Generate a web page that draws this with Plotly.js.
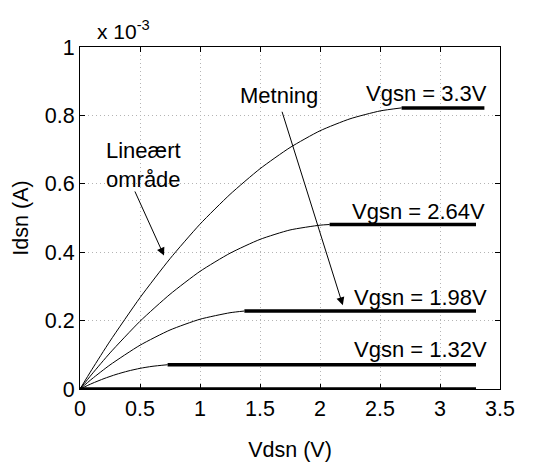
<!DOCTYPE html>
<html>
<head>
<meta charset="utf-8">
<script src="https://cdn.plot.ly/plotly-3.0.1.min.js"></script>
<style>html,body{margin:0;padding:0;background:#fff;}#chart{width:540px;height:465px;}</style>
</head>
<body>
<div id="chart"></div>
<script>
// Values in units of 1e-3 A (mA)
const vds_330 = [0, 0.1, 0.25, 0.5, 0.75, 1.0, 1.25, 1.5, 1.75, 2.0, 2.25, 2.5, 2.68];
const ids_330 = [0, 0.0575, 0.140, 0.267, 0.381, 0.482, 0.569, 0.644, 0.706, 0.755, 0.790, 0.813, 0.822];
const vds_264 = [0, 0.1, 0.25, 0.5, 0.75, 1.0, 1.25, 1.5, 1.75, 2.0, 2.08];
const ids_264 = [0, 0.0437, 0.1055, 0.198, 0.277, 0.344, 0.397, 0.4375, 0.465, 0.479, 0.481];
const vds_198 = [0, 0.1, 0.25, 0.5, 0.75, 1.0, 1.25, 1.37];
const ids_198 = [0, 0.0297, 0.0704, 0.128, 0.1725, 0.204, 0.223, 0.228];
const vds_132 = [0, 0.1, 0.2, 0.3, 0.4, 0.5, 0.6, 0.73];
const ids_132 = [0, 0.0162, 0.0304, 0.0425, 0.0525, 0.0604, 0.0662, 0.071];

// saturation segments [start, end] and level
const sat_vds = [[2.68, 3.37], [2.08, 3.3], [1.37, 3.3], [0.73, 3.3], [0, 3.3]];
const sat_ids = [0.822, 0.481, 0.228, 0.071, 0];

const curve_x = [vds_330, vds_264, vds_198, vds_132];
const curve_y = [ids_330, ids_264, ids_198, ids_132];

const labels = ["Vgsn = 3.3V", "Vgsn = 2.64V", "Vgsn = 1.98V", "Vgsn = 1.32V"];
const label_x = [3.41, 3.39, 3.41, 3.41];
const label_y = [0.863, 0.519, 0.269, 0.115];

const xTicks = [0, 0.5, 1, 1.5, 2, 2.5, 3, 3.5];
const yTicks = [0, 0.2, 0.4, 0.6, 0.8, 1];

const traces = [];
for (let i = 0; i < curve_x.length; i++) {
  traces.push({x: curve_x[i], y: curve_y[i], mode: 'lines', type: 'scatter',
    line: {color: '#000', width: 1, shape: 'spline', smoothing: 0.6}, hoverinfo: 'skip'});
}
for (let i = 0; i < sat_vds.length; i++) {
  traces.push({x: sat_vds[i], y: [sat_ids[i], sat_ids[i]], mode: 'lines', type: 'scatter',
    line: {color: '#000', width: 3.5}, hoverinfo: 'skip'});
}

const F = 'Liberation Sans, Arial, Helvetica, sans-serif';
const annotations = [];
for (let i = 0; i < labels.length; i++) {
  annotations.push({x: label_x[i], y: label_y[i], xref: 'x', yref: 'y', text: labels[i],
    showarrow: false, xanchor: 'right', yanchor: 'middle', font: {family: F, size: 22, color: '#000'}});
}
annotations.push({x: 1.66, y: 0.858, xref: 'x', yref: 'y', text: 'Metning', showarrow: false,
  xanchor: 'center', yanchor: 'middle', font: {family: F, size: 22, color: '#000'}});
annotations.push({x: 0.53, y: 0.655, xref: 'x', yref: 'y', text: 'Lineært<br>område', showarrow: false,
  xanchor: 'center', yanchor: 'middle', align: 'center', font: {family: F, size: 22, color: '#000'}});
annotations.push({x: 2.19, y: 0.245, ax: 1.68, ay: 0.815, xref: 'x', yref: 'y', axref: 'x', ayref: 'y',
  text: '', showarrow: true, arrowhead: 2, arrowsize: 1.6, arrowwidth: 1, arrowcolor: '#000'});
annotations.push({x: 0.70, y: 0.39, ax: 0.452, ay: 0.582, xref: 'x', yref: 'y', axref: 'x', ayref: 'y',
  text: '', showarrow: true, arrowhead: 2, arrowsize: 1.6, arrowwidth: 1, arrowcolor: '#000'});
annotations.push({x: 0.035, y: 1.0, xref: 'paper', yref: 'paper', text: 'x 10<sup>-3</sup>', showarrow: false,
  xanchor: 'left', yanchor: 'bottom', yshift: 2, font: {family: F, size: 21, color: '#000'}});

const axisCommon = {
  showline: true, linecolor: '#000', linewidth: 1, mirror: 'ticks',
  ticks: 'inside', ticklen: 5, tickcolor: '#000', tickwidth: 1,
  showgrid: true, gridcolor: '#b4b4b4', griddash: '1px,3px', gridwidth: 1,
  zeroline: false, tickfont: {family: F, size: 21.5, color: '#000'}
};

const layout = {
  width: 540, height: 465,
  margin: {l: 80, r: 40, t: 47, b: 76},
  paper_bgcolor: '#fff', plot_bgcolor: '#fff',
  showlegend: false,
  font: {family: F, size: 21.5, color: '#000'},
  xaxis: Object.assign({}, axisCommon, {range: [0, 3.5], tickvals: xTicks, ticktext: xTicks.map(String),
    title: {text: 'Vdsn (V)', standoff: 22, font: {family: F, size: 21.5, color: '#000'}}}),
  yaxis: Object.assign({}, axisCommon, {range: [0, 1], tickvals: yTicks, ticktext: yTicks.map(String),
    title: {text: 'Idsn (A)', standoff: 10, font: {family: F, size: 21.5, color: '#000'}}}),
  annotations: annotations
};

Plotly.newPlot('chart', traces, layout, {displayModeBar: false, staticPlot: true});
</script>
</body>
</html>
